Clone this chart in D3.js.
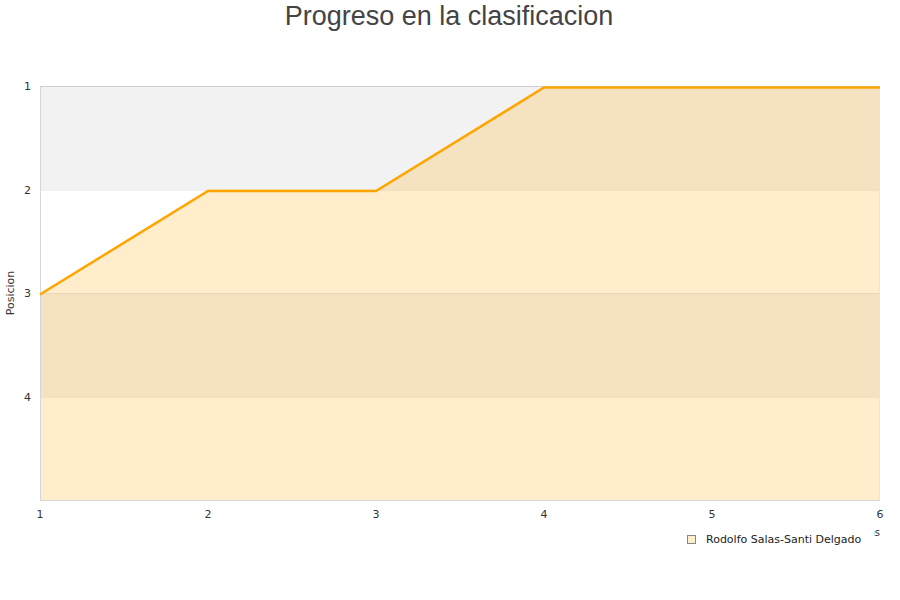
<!DOCTYPE html>
<html><head><meta charset="utf-8">
<script src="https://cdn.jsdelivr.net/npm/d3@7"></script>
<style>body{margin:0;background:#fff}svg{font-family:"DejaVu Sans",Verdana,sans-serif}</style>
</head><body><svg id="c" width="900" height="600"></svg>
<script>
const title = "Progreso en la clasificacion";
const jornadas = [1, 2, 3, 4, 5, 6];
const posiciones = [3, 2, 2, 1, 1, 1];
const yTicks = [1, 2, 3, 4];
const seriesName = "Rodolfo Salas-Santi Delgado";
const xTitle = "Jornadas";
const yTitle = "Posicion";

const svg = d3.select("#c");
const m = {l: 40, r: 880, t: 86, b: 500};
const x = d3.scaleLinear().domain([1, 6]).range([m.l, m.r]);
const y = d3.scaleLinear().domain([1, 5]).range([m.t, m.b]);

svg.append("text").attr("x", 449).attr("y", 25).attr("text-anchor", "middle")
  .attr("font-size", 27).attr("fill", "#444").attr("font-family", "Liberation Sans, Arial, sans-serif").text(title);

// bands
const bands = [1, 2, 3, 4];
svg.selectAll("rect.band").data(bands).enter().append("rect")
  .attr("x", m.l).attr("width", m.r - m.l)
  .attr("y", d => y(d)).attr("height", d => y(d + 1) - y(d))
  .attr("fill", (d, i) => i % 2 === 0 ? "#f2f2f2" : "#ffffff");

// grid lines
svg.selectAll("line.grid").data([2, 3, 4]).enter().append("line")
  .attr("x1", m.l).attr("x2", m.r).attr("y1", d => y(d) + 0.5).attr("y2", d => y(d) + 0.5)
  .attr("stroke", "#e3e3e3").attr("stroke-width", 1);

// area
const data = jornadas.map((j, i) => ({j, p: posiciones[i]}));
svg.append("path").datum(data)
  .attr("d", d3.area().x(d => x(d.j)).y0(y(5)).y1(d => y(d.p)))
  .attr("fill", "#ffa500").attr("fill-opacity", 0.2);

// border
svg.append("line").attr("x1", m.l + 0.5).attr("x2", m.l + 0.5).attr("y1", m.t).attr("y2", m.b).attr("stroke", "#d6d6d6");
svg.append("line").attr("x1", m.l).attr("x2", m.r).attr("y1", m.b + 0.5).attr("y2", m.b + 0.5).attr("stroke", "#d6d6d6");
svg.append("line").attr("x1", m.l).attr("x2", m.r).attr("y1", m.t + 0.5).attr("y2", m.t + 0.5).attr("stroke", "#d0d0d0");
svg.append("line").attr("x1", m.r - 0.5).attr("x2", m.r - 0.5).attr("y1", m.t).attr("y2", m.b).attr("stroke", "#e6e6e6");

// line
svg.append("path").datum(data)
  .attr("d", d3.line().x(d => x(d.j)).y(d => y(d.p) + 1.5))
  .attr("fill", "none").attr("stroke", "#ffa500").attr("stroke-width", 2.5);

// y ticks
svg.selectAll("text.yt").data(yTicks).enter().append("text")
  .attr("x", 31).attr("y", d => y(d) + 4).attr("text-anchor", "end")
  .attr("font-size", 11).attr("fill", "#333").text(d => d);
// x ticks
svg.selectAll("text.xt").data(jornadas).enter().append("text")
  .attr("x", d => x(d)).attr("y", 518).attr("text-anchor", "middle")
  .attr("font-size", 11).attr("fill", "#333").text(d => d);

// axis titles
svg.append("text").attr("transform", "translate(14,293) rotate(-90)").attr("text-anchor", "middle")
  .attr("font-size", 11).attr("fill", "#333").text(yTitle);
svg.append("text").attr("x", 880).attr("y", 536).attr("text-anchor", "end")
  .attr("font-size", 10).attr("fill", "#333").text(xTitle);

// legend (covers most of the x-axis title, as in the reference)
svg.append("rect").attr("x", 680).attr("y", 527).attr("width", 194).attr("height", 24).attr("fill", "#fff");
svg.append("rect").attr("x", 687.5).attr("y", 535.5).attr("width", 8).attr("height", 8)
  .attr("fill", "#ffedcc").attr("stroke", "#888");
svg.append("text").attr("x", 706).attr("y", 543).attr("font-size", 11).attr("fill", "#222").text(seriesName);
</script></body></html>
